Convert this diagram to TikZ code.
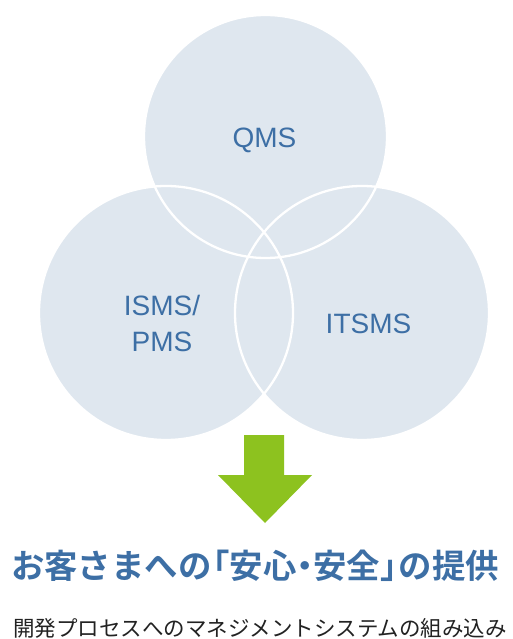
\documentclass[tikz,border=0pt]{standalone}
\usepackage{fontspec}
\setmainfont{Liberation Sans}
\newfontfamily\jpbold{Noto Sans CJK JP Bold}
\newfontfamily\jpreg{Noto Sans CJK JP}
\definecolor{circfill}{HTML}{DFE7EF}
\definecolor{labblue}{HTML}{3D6FA5}
\definecolor{arrowgreen}{HTML}{8DC21F}
\definecolor{bodytext}{HTML}{222222}
\begin{document}
\begin{tikzpicture}[x=1pt,y=-1pt,
  venn/.style={circle, fill=circfill, inner sep=0pt},
  ring/.style={draw=white, line width=2.3pt},
  lab/.style={text=labblue, font=\fontsize{28}{36}\selectfont, inner sep=0pt, align=center},
  title/.style={text=labblue, font=\jpbold\fontsize{33.4}{40}\selectfont, inner sep=0pt},
  bodyline/.style={text=bodytext, font=\jpreg\fontsize{21.5}{26}\selectfont, inner sep=0pt}]
\useasboundingbox (0,0) rectangle (513,639);
\fill[white] (0,0) rectangle (513,639);
\node[venn, minimum size=243pt] (qms) at (265.5,136.5) {};
\node[venn, minimum size=254pt] (isms) at (166,313) {};
\node[venn, minimum size=254pt] (itsms) at (362,313) {};
\draw[ring] (qms.center) circle (121.5);
\draw[ring] (isms.center) circle (127);
\draw[ring] (itsms.center) circle (127);
\node[lab, anchor=base] (tq) at (264.5,148) {QMS};
\node[lab] (ti) at (162,323) {ISMS/\\PMS};
\node[lab, anchor=base] (tt) at (368.5,333) {ITSMS};
\fill[arrowgreen] (244,435) -- (284,435) -- (284,475) -- (312,475) -- (265,523)
  -- (218,475) -- (244,475) -- cycle;
\node[title] (ttl) at (255,566) {お客さまへの\kern-0.45em「安心\kern-0.25em・\kern-0.25em安全」\kern-0.45emの提供};
\node[bodyline] (body) at (260,628) {開発プロセスへのマネジメントシステムの組み込み};
\end{tikzpicture}
\end{document}
